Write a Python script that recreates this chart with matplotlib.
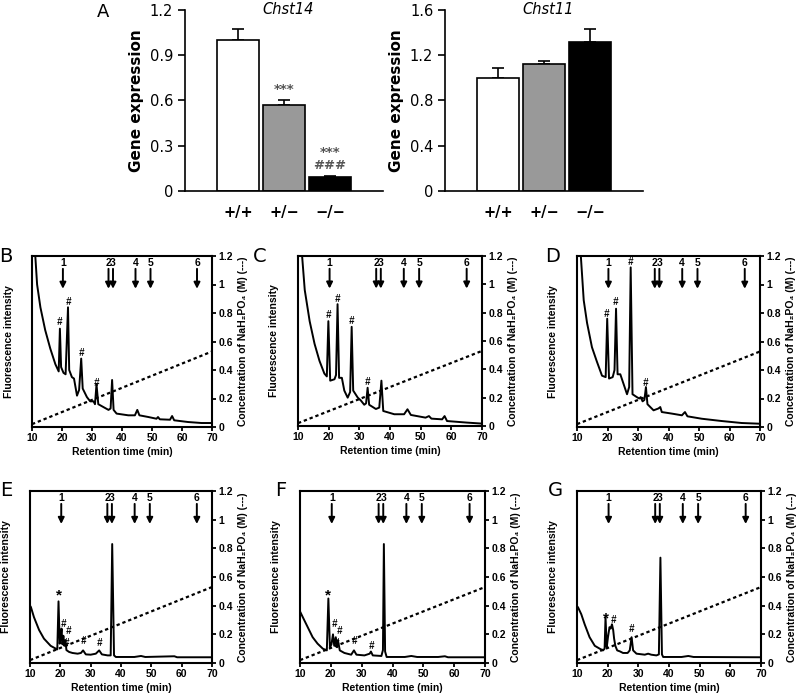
import matplotlib
matplotlib.use("Agg")
import matplotlib.pyplot as plt

plt.rcParams['font.family'] = ['DejaVu Sans']

# ---- A: qPCR bars ----
genotypes = ['+/+', '+/\u2212', '\u2212/\u2212']
chst14_mean = [1.0, 0.57, 0.09]
chst14_err = [0.075, 0.032, 0.008]
chst11_mean = [1.0, 1.12, 1.32]
chst11_err = [0.09, 0.025, 0.11]
chst14_sig = ['', '***', '***\n###']
bar_colors = ['white', '#999999', 'black']

# ---- B-G: chromatograms (retention time, intensity) ----
B_t = [10.5, 11.7, 12.8, 14.4, 16.1, 17.8, 18.9, 19.3, 19.7, 20.5, 21.2, 22.0, 22.4, 23.3, 24.0, 25.0,
       25.7, 26.4, 26.9, 28.3, 29.4, 30.5, 31.0, 31.5, 32.1, 33.8, 35.5, 36.2, 36.7, 37.2, 38.2, 42.1,
       44.3, 45.1, 45.8, 48.8, 51.5, 52.0, 52.6, 56.0, 56.7, 57.4, 62.0, 66.5, 70.0]
B_y = [1.40, 1.00, 0.84, 0.68, 0.55, 0.44, 0.39, 0.69, 0.42, 0.38, 0.37, 0.84, 0.40, 0.35, 0.34, 0.22,
       0.26, 0.48, 0.27, 0.21, 0.18, 0.18, 0.16, 0.30, 0.16, 0.14, 0.12, 0.13, 0.33, 0.12, 0.094, 0.082,
       0.082, 0.12, 0.082, 0.07, 0.058, 0.07, 0.054, 0.051, 0.077, 0.047, 0.035, 0.028, 0.028]

C_t = [10.8, 12.2, 13.8, 15.4, 17.0, 18.6, 19.4, 19.9, 20.5, 21.9, 22.4, 22.9, 23.4, 24.3, 25.1, 26.2,
       27.0, 27.5, 28.0, 29.5, 30.5, 31.6, 32.2, 32.7, 33.2, 35.4, 36.5, 37.2, 37.8, 41.4, 44.6, 45.7,
       46.8, 51.6, 52.7, 53.5, 57.0, 57.8, 58.6, 65.1, 70.0]
C_y = [1.35, 0.96, 0.74, 0.58, 0.46, 0.37, 0.35, 0.74, 0.32, 0.33, 0.36, 0.86, 0.34, 0.34, 0.25, 0.20,
       0.24, 0.70, 0.25, 0.20, 0.18, 0.15, 0.16, 0.27, 0.15, 0.12, 0.13, 0.32, 0.106, 0.083, 0.083, 0.118,
       0.078, 0.059, 0.07, 0.052, 0.047, 0.07, 0.035, 0.024, 0.017]

D_t = [10.8, 12.2, 13.3, 14.9, 16.5, 18.2, 19.4, 19.9, 20.5, 21.7, 22.3, 22.8, 23.3, 24.2, 25.3, 26.4,
       27.1, 27.6, 28.2, 29.6, 30.4, 30.9, 31.5, 32.1, 32.6, 33.1, 35.1, 36.7, 37.3, 37.8, 41.1, 44.4,
       45.4, 46.2, 50.9, 57.4, 64.0, 70.0]
D_y = [1.35, 0.89, 0.73, 0.56, 0.46, 0.36, 0.35, 0.76, 0.34, 0.35, 0.40, 0.83, 0.37, 0.37, 0.30, 0.23,
       0.28, 1.12, 0.23, 0.21, 0.20, 0.21, 0.18, 0.19, 0.28, 0.16, 0.117, 0.13, 0.14, 0.105, 0.094, 0.082,
       0.105, 0.075, 0.058, 0.042, 0.028, 0.023]

E_t = [10.0, 10.3, 11.3, 13.0, 14.6, 16.8, 18.5, 19.0, 19.4, 19.8, 20.1, 20.4, 20.7, 21.0, 21.3, 21.7,
       22.0, 22.9, 24.0, 25.7, 26.8, 27.5, 28.4, 30.0, 31.7, 32.8, 33.7, 35.6, 36.6, 37.1, 37.7, 38.3,
       44.4, 46.6, 48.0, 57.6, 58.5, 70.0]
E_y = [0.40, 0.39, 0.32, 0.23, 0.17, 0.12, 0.10, 0.095, 0.43, 0.135, 0.18, 0.24, 0.13, 0.19, 0.12, 0.16,
       0.09, 0.077, 0.07, 0.065, 0.07, 0.088, 0.06, 0.058, 0.065, 0.088, 0.06, 0.053, 0.053, 0.83, 0.053, 0.042,
       0.042, 0.049, 0.042, 0.047, 0.04, 0.04]

F_t = [10.0, 10.9, 12.5, 14.1, 15.7, 17.4, 18.7, 19.2, 19.7, 20.2, 20.7, 21.1, 21.6, 22.0, 22.3, 22.9,
       24.4, 26.6, 27.5, 28.3, 30.9, 32.6, 33.0, 33.6, 36.4, 36.9, 37.2, 37.6, 38.1, 44.0, 46.1, 48.0,
       54.8, 57.0, 58.0, 70.0]
F_y = [0.36, 0.32, 0.25, 0.18, 0.135, 0.10, 0.088, 0.45, 0.11, 0.13, 0.20, 0.12, 0.18, 0.11, 0.16, 0.088,
       0.07, 0.058, 0.088, 0.058, 0.053, 0.065, 0.08, 0.053, 0.049, 0.09, 0.83, 0.08, 0.042, 0.042, 0.049, 0.042,
       0.042, 0.047, 0.04, 0.04]

G_t = [10.0, 10.3, 11.4, 12.5, 14.1, 15.8, 17.4, 18.5, 19.0, 19.3, 19.7, 20.1, 20.6, 21.0, 21.4, 21.8,
       22.1, 22.5, 23.1, 24.0, 25.0, 26.5, 27.2, 27.8, 28.3, 29.4, 32.1, 33.2, 34.2, 35.9, 36.7, 37.2,
       37.7, 38.1, 44.1, 46.3, 48.0, 70.0]
G_y = [0.39, 0.39, 0.34, 0.27, 0.18, 0.12, 0.10, 0.088, 0.10, 0.32, 0.11, 0.18, 0.25, 0.24, 0.27, 0.23,
       0.17, 0.12, 0.088, 0.081, 0.07, 0.07, 0.088, 0.18, 0.088, 0.065, 0.058, 0.065, 0.058, 0.053, 0.06, 0.735,
       0.06, 0.042, 0.042, 0.049, 0.042, 0.04]

# peak annotations (#, *)
B_mark_t = [19.2, 22.0, 26.3, 31.5]
B_mark_y = [0.74, 0.88, 0.52, 0.31]
B_mark_s = ['#', '#', '#', '#']
C_mark_t = [19.8, 22.8, 27.4, 32.6]
C_mark_y = [0.78, 0.90, 0.74, 0.31]
C_mark_s = ['#', '#', '#', '#']
D_mark_t = [19.6, 22.5, 27.5, 32.5]
D_mark_y = [0.79, 0.88, 1.16, 0.31]
D_mark_s = ['#', '#', '#', '#']
E_mark_t = [19.4, 20.9, 22.6, 21.9, 27.6, 33.0]
E_mark_y = [0.50, 0.27, 0.22, 0.14, 0.15, 0.14]
E_mark_s = ['*', '#', '#', '#', '#', '#']
F_mark_t = [19.2, 21.2, 22.9, 21.9, 27.7, 33.1]
F_mark_y = [0.50, 0.27, 0.22, 0.14, 0.15, 0.12]
F_mark_s = ['*', '#', '#', '#', '#', '#']
G_mark_t = [19.5, 22.0, 27.8]
G_mark_y = [0.34, 0.30, 0.235]
G_mark_s = ['*', '#', '#']

# standard elution positions
std_t = [20.3, 35.5, 37.0, 44.5, 49.5, 65.0]
std_labels = ['1', '2', '3', '4', '5', '6']

# NaH2PO4 gradient
grad_t = [10, 70]
grad_c = [0.02, 0.53]

W, H = 799, 696
fig = plt.figure(figsize=(W / 100, H / 100), dpi=100)


def rect(x0, y0, x1, y1):
    return [x0 / W, 1 - y1 / H, (x1 - x0) / W, (y1 - y0) / H]


def bar_panel(r, mean, err, ymax, yticks, title, sig=None):
    ax = fig.add_axes(r)
    x = range(len(mean))
    ax.bar(x, mean, width=0.93, color=bar_colors, edgecolor='black', linewidth=1.2, zorder=2)
    ax.errorbar(x, mean, yerr=[[0] * len(err), err], fmt='none', ecolor='black',
                elinewidth=1.2, capsize=4, capthick=1.2, zorder=1)
    ax.set_xlim(-1.15, 3.15)
    ax.set_ylim(0, ymax)
    ax.set_yticks(yticks)
    ax.set_yticklabels([('%g' % v) for v in yticks], fontsize=10.5)
    ax.set_xticks(list(x))
    ax.set_xticklabels(genotypes, fontsize=10.5, fontweight='bold')
    ax.tick_params(axis='x', length=0, pad=10)
    ax.tick_params(axis='y', direction='out', length=5, width=1.2)
    for s in ['top', 'right']:
        ax.spines[s].set_visible(False)
    for s in ['left', 'bottom']:
        ax.spines[s].set_linewidth(1.2)
    ax.set_ylabel('Gene expression', fontsize=11, fontweight='bold', labelpad=4)
    ax.text(0.52, 1.0, title, transform=ax.transAxes, fontsize=10.5, style='italic',
            ha='center', va='center')
    if sig:
        for i, lab in enumerate(sig):
            if lab:
                ax.text(i, mean[i] + err[i] + 0.025 * ymax, lab, ha='center', va='bottom',
                        fontsize=9.5, color='#555555', fontweight='bold', linespacing=0.95)
    return ax


axA1 = bar_panel(rect(185, 10, 383, 191), chst14_mean, chst14_err, 1.2,
                 [0, 0.3, 0.6, 0.9, 1.2], 'Chst14', sig=chst14_sig)
axA2 = bar_panel(rect(445, 10, 643, 191), chst11_mean, chst11_err, 1.6,
                 [0, 0.4, 0.8, 1.2, 1.6], 'Chst11')
fig.text(97 / W, 1 - 12 / H, 'A', fontsize=13, va='center', ha='left')

cfont = dict(family='Liberation Sans', fontweight='bold')


def chrom_panel(r, letter, lpos, t, y, mt, my, ms):
    ax = fig.add_axes(r)
    ax.plot(t, y, color='black', lw=1.4, clip_on=True)
    ax.plot(grad_t, grad_c, color='black', lw=1.6, ls=(0, (1.5, 1.3)))
    ax.set_xlim(10, 70)
    ax.set_ylim(0, 1.2)
    ax.set_xticks([10, 20, 30, 40, 50, 60, 70])
    ax.set_xticklabels(['10', '20', '30', '40', '50', '60', '70'], fontsize=7.5, **cfont)
    ax.yaxis.tick_right()
    ax.yaxis.set_label_position('right')
    yt = [0, 0.2, 0.4, 0.6, 0.8, 1.0, 1.2]
    ax.set_yticks(yt)
    ax.set_yticklabels([('%g' % v) for v in yt], fontsize=7.5, **cfont)
    ax.tick_params(direction='out', length=3, width=1.3, pad=1.5)
    for s in ax.spines.values():
        s.set_linewidth(1.5)
    ax.set_xlabel('Retention time (min)', fontsize=7.5, labelpad=3, **cfont)
    ax.set_ylabel('Concentration of NaH\u2082PO\u2084 (M) (---)', fontsize=7.5, labelpad=4, **cfont)
    ax.text(-0.13, 0.5, 'Fluorescence intensity', rotation=90, transform=ax.transAxes,
            ha='center', va='center', fontsize=7.5, **cfont)
    for ti, lab in zip(std_t, std_labels):
        ax.annotate('', xy=(ti, 0.97), xytext=(ti, 1.11),
                    arrowprops=dict(arrowstyle='-|>', color='black', lw=1.4, mutation_scale=9,
                                    shrinkA=0, shrinkB=0))
        ax.text(ti, 1.15, lab, ha='center', va='center', fontsize=7.5, **cfont)
    for ti, yi, s in zip(mt, my, ms):
        if s == '*':
            ax.text(ti, yi - 0.03, s, ha='center', va='center', fontsize=11, **cfont)
        else:
            ax.text(ti, yi, s, ha='center', va='center', fontsize=7, style='italic', **cfont)
    fig.text(lpos[0] / W, 1 - lpos[1] / H, letter, fontsize=14, ha='center', va='center')
    return ax


chrom_panel(rect(32, 256, 212, 427), 'B', (6, 256), B_t, B_y, B_mark_t, B_mark_y, B_mark_s)
chrom_panel(rect(298, 256, 482, 426), 'C', (260, 256), C_t, C_y, C_mark_t, C_mark_y, C_mark_s)
chrom_panel(rect(577, 256, 760, 427), 'D', (553, 256), D_t, D_y, D_mark_t, D_mark_y, D_mark_s)
chrom_panel(rect(30, 491, 212, 663), 'E', (6, 490), E_t, E_y, E_mark_t, E_mark_y, E_mark_s)
chrom_panel(rect(300, 491, 485, 663), 'F', (281, 490), F_t, F_y, F_mark_t, F_mark_y, F_mark_s)
chrom_panel(rect(577, 491, 761, 663), 'G', (555, 490), G_t, G_y, G_mark_t, G_mark_y, G_mark_s)

fig.savefig('out.png', dpi=100)
